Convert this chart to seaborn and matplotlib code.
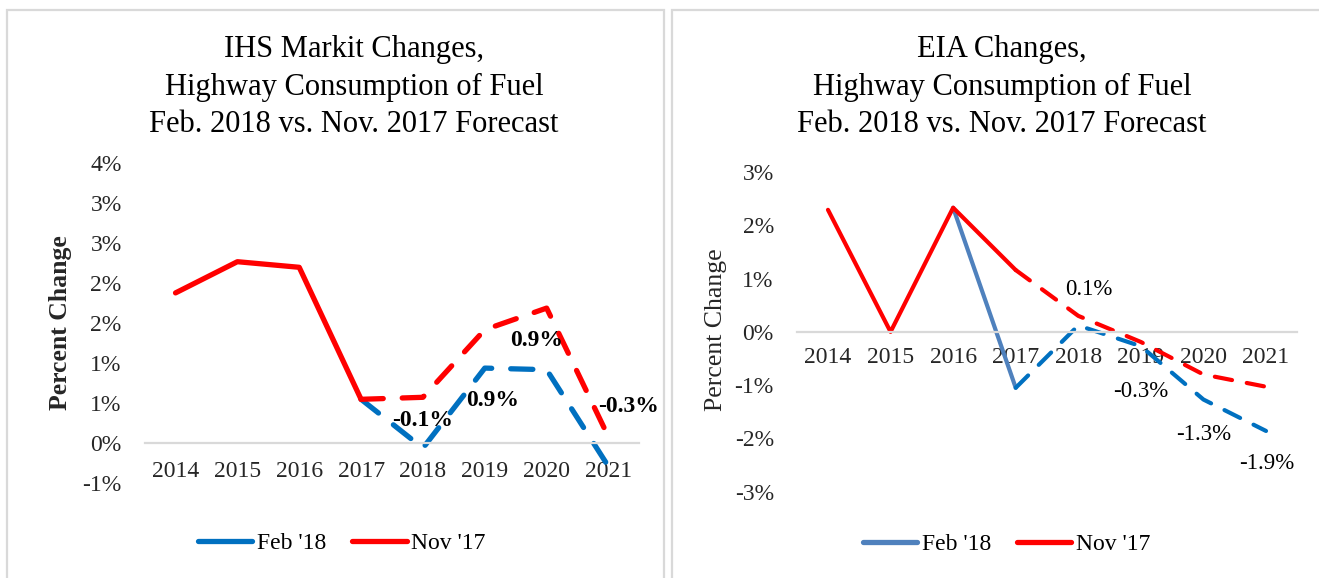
import numpy as np
import pandas as pd
import matplotlib
matplotlib.use("Agg")
import matplotlib.pyplot as plt
from matplotlib.lines import Line2D
from matplotlib.patches import Rectangle
import seaborn as sns

# ---------------- data ----------------
years = ["2014", "2015", "2016", "2017", "2018", "2019", "2020", "2021"]

ihs_nov17 = [1.88, 2.27, 2.20, 0.55, 0.575, 1.42, 1.69, 0.08]
ihs_feb18 = [np.nan, np.nan, np.nan, 0.55, -0.06, 0.94, 0.92, -0.29]

eia_nov17 = [2.29, 0.0, 2.33, 1.16, 0.30, -0.19, -0.80, -1.03]
eia_feb18 = [np.nan, np.nan, 2.33, -1.05, 0.12, -0.27, -1.27, -1.86]

ihs_yticks = [-0.5, 0.0, 0.5, 1.0, 1.5, 2.0, 2.5, 3.0, 3.5]
ihs_yticklabels = ["-1%", "0%", "1%", "1%", "2%", "2%", "3%", "3%", "4%"]
eia_yticks = [-3, -2, -1, 0, 1, 2, 3]
eia_yticklabels = ["-3%", "-2%", "-1%", "0%", "1%", "2%", "3%"]

ihs_title = "IHS Markit Changes,\nHighway Consumption of Fuel\nFeb. 2018 vs. Nov. 2017 Forecast"
eia_title = "EIA Changes,\nHighway Consumption of Fuel\nFeb. 2018 vs. Nov. 2017 Forecast"
series_names = ["Feb '18", "Nov '17"]

# labelled points (index into years) and label offsets in pixels
ihs_label_idx = [4, 5, 6, 7]
ihs_label_off = [(0, 28), (8, -32), (-10, 29), (20, 60)]
eia_label_idx = [4, 5, 6, 7]
eia_label_off = [(11, 36), (0, -45), (0, -35), (1, -33)]

# ---------------- style ----------------
sns.set_theme(style="white")
plt.rcParams["font.family"] = ["Liberation Serif", "DejaVu Serif"]
plt.rcParams["text.color"] = "#000000"

BLUE = "#0070C0"
LBLUE = "#4F81BD"
RED = "#FF0000"
GRID = "#D9D9D9"

W, H = 1319, 578
fig = plt.figure(figsize=(W / 100, H / 100), dpi=100)

# panel borders
fig.patches.append(Rectangle((7 / W, -0.1), (664 - 7) / W, 1.1 - 10 / H,
                             transform=fig.transFigure, fill=False,
                             edgecolor=GRID, linewidth=1.6))
fig.patches.append(Rectangle((672 / W, -0.1), 0.6, 1.1 - 10 / H,
                             transform=fig.transFigure, fill=False,
                             edgecolor=GRID, linewidth=1.6))

axL = fig.add_axes([144.6 / W, 1 - 483.3 / H, 494.8 / W, 320 / H])
axR = fig.add_axes([796.7 / W, 1 - 491.7 / H, 500.6 / W, 319.7 / H])

x = np.arange(len(years))


def seg(ax, vals, i0, i1, color, lw, dashed):
    df = pd.DataFrame({"x": x[i0:i1 + 1], "y": vals[i0:i1 + 1]})
    kw = dict(color=color, linewidth=lw, solid_capstyle="round",
              dash_capstyle="round", solid_joinstyle="round")
    if dashed:
        kw["linestyle"] = (0, (4.2, 3.6))
    sns.lineplot(data=df, x="x", y="y", ax=ax, **kw)


# ---- left: IHS ----
seg(axL, ihs_feb18, 3, 7, BLUE, 3.8, True)
seg(axL, ihs_nov17, 0, 3, RED, 3.8, False)
seg(axL, ihs_nov17, 3, 7, RED, 3.8, True)

# ---- right: EIA ----
seg(axR, eia_feb18, 2, 3, LBLUE, 3.0, False)
seg(axR, eia_feb18, 3, 7, BLUE, 3.0, True)
seg(axR, eia_nov17, 0, 3, RED, 3.0, False)
seg(axR, eia_nov17, 3, 7, RED, 3.0, True)

for ax, yt, ytl, ylim, xpad in [
    (axL, ihs_yticks, ihs_yticklabels, (-0.5, 3.5), 13),
    (axR, eia_yticks, eia_yticklabels, (-3, 3), 11),
]:
    ax.set_xlim(-0.5, len(years) - 0.5)
    ax.set_ylim(*ylim)
    ax.set_xticks(x)
    ax.set_xticklabels(years)
    ax.set_yticks(yt)
    ax.set_yticklabels(ytl)
    ax.set_xlabel("")
    for s in ["top", "right", "left"]:
        ax.spines[s].set_visible(False)
    ax.spines["bottom"].set_position(("data", 0))
    ax.spines["bottom"].set_color(GRID)
    ax.spines["bottom"].set_linewidth(1.6)
    ax.tick_params(axis="x", length=0, pad=xpad, labelsize=17)
    ax.tick_params(axis="y", length=0, pad=16.5, labelsize=17)
    ax.set_facecolor("none")
    ax.grid(False)

# y labels
axL.set_ylabel("Percent Change", fontsize=18.5, fontweight="bold")
axR.set_ylabel("Percent Change", fontsize=18.5)
for ax, cx, cy in [(axL, -0.17, 0.501), (axR, -0.161, 0.506)]:
    ax.yaxis.label.set_va("center")
    ax.yaxis.set_label_coords(cx, cy)

# data labels
for i, (dx, dy) in zip(ihs_label_idx, ihs_label_off):
    v = ihs_feb18[i]
    axL.annotate(f"{v:.1f}%", xy=(x[i], v), xytext=(dx, dy),
                 textcoords="offset pixels", ha="center", va="center",
                 fontsize=17, fontweight="bold")
for i, (dx, dy) in zip(eia_label_idx, eia_label_off):
    v = eia_feb18[i]
    axR.annotate(f"{v:.1f}%", xy=(x[i], v), xytext=(dx, dy),
                 textcoords="offset pixels", ha="center", va="center",
                 fontsize=16.5)

# titles
fig.text(354 / W, 1 - 87 / H, ihs_title, ha="center", va="center",
         fontsize=22, linespacing=1.4)
fig.text(1002 / W, 1 - 87 / H, eia_title, ha="center", va="center",
         fontsize=22, linespacing=1.4)

# legends
def legend(cx, cy, c1):
    handles = [Line2D([0], [0], color=c1, lw=3.8, solid_capstyle="round"),
               Line2D([0], [0], color=RED, lw=3.8, solid_capstyle="round")]
    fig.legend(handles, series_names, loc="center",
               bbox_to_anchor=(cx / W, 1 - cy / H), ncol=2, frameon=False,
               fontsize=17, handlelength=2.3, handletextpad=0.2,
               columnspacing=1.1, borderpad=0, borderaxespad=0)

legend(342, 543, BLUE)
legend(1006.5, 544, LBLUE)

fig.savefig("out.png", dpi=100)
